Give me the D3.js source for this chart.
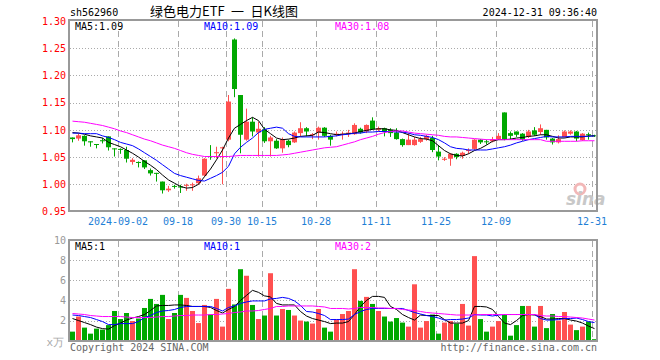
<!DOCTYPE html>
<html>
<head>
<meta charset="utf-8">
<script src="https://cdnjs.cloudflare.com/ajax/libs/d3/7.8.5/d3.min.js"></script>
<style>
body { margin: 0; background: #fff; }
svg { display: block; }
text { font-family: "DejaVu Sans Mono", monospace; font-size: 10px; }
</style>
</head>
<body>
<div id="chart"></div>
<script>
// 交易日
const dates = ["08-21","08-22","08-23","08-26","08-27","08-28","08-29","08-30",
  "09-02","09-03","09-04","09-05","09-06","09-09","09-10","09-11","09-12","09-13","09-18","09-19","09-20","09-23","09-24","09-25","09-26","09-27","09-30",
  "10-08","10-09","10-10","10-11","10-14","10-15","10-16","10-17","10-18","10-21","10-22","10-23","10-24","10-25","10-28","10-29","10-30","10-31",
  "11-01","11-04","11-05","11-06","11-07","11-08","11-11","11-12","11-13","11-14","11-15","11-18","11-19","11-20","11-21","11-22","11-25","11-26","11-27","11-28","11-29",
  "12-02","12-03","12-04","12-05","12-06","12-09","12-10","12-11","12-12","12-13","12-16","12-17","12-18","12-19","12-20","12-23","12-24","12-25","12-26","12-27","12-30","12-31"];

const tickDates = ["09-02","09-18","09-30","10-15","10-28","11-11","11-25","12-09","12-31"];
const tickLabels = ["2024-09-02","09-18","09-30","10-15","10-28","11-11","11-25","12-09","12-31"];
const priceTicks = [0.95, 1.00, 1.05, 1.10, 1.15, 1.20, 1.25, 1.30];
const volTicks = [2, 4, 6, 8, 10];

const opens = [1.086,1.084,1.089,1.079,1.074,1.081,1.088,1.066,1.065,1.063,
  1.041,1.041,1.044,1.026,1.021,1.005,0.989,0.997,0.996,0.998,
  0.998,1.002,1.016,1.052,1.057,1.066,1.082,1.266,1.164,1.082,
  1.115,1.095,1.101,1.079,1.080,1.066,1.080,1.077,1.094,1.103,
  1.090,1.095,1.104,1.089,1.091,1.091,1.093,1.092,1.102,1.097,
  1.117,1.100,1.103,1.100,1.095,1.083,1.072,1.072,1.078,1.083,
  1.085,1.060,1.045,1.047,1.056,1.052,1.061,1.065,1.082,1.079,
  1.079,1.083,1.132,1.094,1.097,1.093,1.087,1.099,1.096,1.100,
  1.084,1.077,1.087,1.093,1.097,1.081,1.092,1.090];
const highs = [1.086,1.093,1.090,1.079,1.074,1.085,1.088,1.066,1.066,1.069,
  1.048,1.042,1.044,1.029,1.021,1.005,0.997,0.999,0.999,1.001,
  1.003,1.016,1.048,1.072,1.069,1.069,1.164,1.268,1.164,1.139,
  1.123,1.115,1.105,1.089,1.083,1.086,1.082,1.097,1.114,1.105,
  1.094,1.106,1.105,1.091,1.097,1.097,1.100,1.112,1.104,1.110,
  1.123,1.106,1.104,1.103,1.103,1.084,1.094,1.087,1.087,1.091,
  1.089,1.072,1.050,1.057,1.057,1.060,1.066,1.083,1.083,1.082,
  1.087,1.094,1.132,1.097,1.097,1.094,1.100,1.105,1.110,1.100,
  1.085,1.090,1.099,1.099,1.098,1.094,1.095,1.091];
const lows = [1.077,1.080,1.071,1.069,1.066,1.075,1.062,1.051,1.056,1.040,
  1.036,1.031,1.028,1.016,1.005,0.983,0.986,0.992,0.984,0.988,
  0.988,0.999,1.014,1.045,1.048,1.000,1.079,1.160,1.057,1.080,
  1.088,1.051,1.076,1.051,1.065,1.058,1.068,1.076,1.088,1.088,
  1.083,1.082,1.087,1.071,1.088,1.082,1.087,1.091,1.093,1.094,
  1.100,1.097,1.088,1.087,1.082,1.069,1.072,1.071,1.076,1.080,
  1.059,1.044,1.043,1.034,1.046,1.047,1.056,1.063,1.074,1.073,
  1.077,1.082,1.081,1.083,1.087,1.080,1.085,1.089,1.091,1.082,
  1.073,1.075,1.086,1.091,1.079,1.080,1.082,1.087];
const closes = [1.083,1.090,1.079,1.077,1.073,1.079,1.068,1.065,1.064,1.047,
  1.045,1.040,1.031,1.020,1.020,0.989,0.992,0.996,0.994,0.999,
  1.000,1.011,1.047,1.050,1.059,1.068,1.152,1.175,1.091,1.115,
  1.097,1.102,1.079,1.086,1.066,1.083,1.072,1.095,1.103,1.097,
  1.092,1.104,1.089,1.082,1.093,1.093,1.095,1.109,1.095,1.109,
  1.101,1.103,1.096,1.094,1.083,1.072,1.082,1.082,1.083,1.089,
  1.063,1.051,1.047,1.056,1.050,1.058,1.063,1.082,1.077,1.078,
  1.083,1.089,1.082,1.089,1.091,1.082,1.097,1.091,1.103,1.086,
  1.077,1.083,1.097,1.097,1.084,1.093,1.091,1.089];

// 均线
const ma5 = [1.095,1.094,1.092,1.089,1.087,1.085,1.077,1.073,1.069,1.063,
  1.057,1.050,1.042,1.035,1.027,1.017,1.008,1.002,0.996,0.993,
  0.994,1.000,1.014,1.028,1.045,1.063,1.085,1.103,1.110,1.117,
  1.123,1.117,1.101,1.093,1.085,1.082,1.083,1.085,1.088,1.089,
  1.090,1.096,1.095,1.093,1.091,1.092,1.093,1.094,1.097,1.099,
  1.101,1.102,1.102,1.100,1.099,1.095,1.091,1.087,1.084,1.083,
  1.080,1.071,1.062,1.056,1.053,1.052,1.056,1.062,1.066,1.072,
  1.079,1.082,1.082,1.083,1.085,1.086,1.088,1.089,1.091,1.091,
  1.088,1.085,1.085,1.087,1.087,1.087,1.089,1.089];
const ma10 = [1.094,1.094,1.093,1.093,1.093,1.089,1.086,1.082,1.077,1.074,
  1.071,1.065,1.058,1.051,1.044,1.036,1.028,1.020,1.016,1.013,
  1.010,1.007,1.006,1.011,1.016,1.022,1.033,1.056,1.068,1.077,
  1.085,1.095,1.101,1.103,1.105,1.103,1.093,1.088,1.087,1.087,
  1.087,1.087,1.087,1.088,1.089,1.091,1.092,1.094,1.094,1.096,
  1.096,1.097,1.097,1.097,1.096,1.096,1.094,1.091,1.090,1.088,
  1.086,1.082,1.076,1.069,1.066,1.065,1.063,1.063,1.063,1.063,
  1.065,1.067,1.069,1.072,1.076,1.079,1.082,1.084,1.086,1.088,
  1.087,1.087,1.087,1.088,1.088,1.088,1.088,1.089];
const ma30 = [1.116,1.115,1.114,1.112,1.110,1.108,1.105,1.102,1.098,1.095,
  1.091,1.087,1.083,1.080,1.076,1.072,1.069,1.066,1.062,1.058,
  1.055,1.053,1.051,1.051,1.051,1.051,1.051,1.052,1.053,1.053,
  1.053,1.053,1.053,1.053,1.053,1.054,1.055,1.057,1.059,1.061,
  1.063,1.065,1.067,1.068,1.069,1.072,1.075,1.078,1.082,1.085,
  1.088,1.092,1.095,1.097,1.098,1.098,1.096,1.094,1.093,1.092,
  1.091,1.090,1.088,1.087,1.087,1.086,1.085,1.084,1.083,1.082,
  1.082,1.082,1.082,1.082,1.082,1.082,1.082,1.082,1.082,1.079,
  1.079,1.079,1.079,1.079,1.079,1.080,1.080,1.080];

// 成交量（万）
const volumes = [0.9,2.4,1.3,0.7,1.2,1.1,1.55,2.95,2.15,2.75,
  1.95,2.2,3.25,4.15,3.65,4.55,2.15,2.75,4.55,4.25,
  2.95,1.75,3.55,2.6,4.15,1.4,5.15,3.6,7.1,6.45,
  3.55,2.15,2.5,6.7,2.5,3.15,3.05,2.5,2.0,1.9,
  1.7,3.15,1.3,0.9,2.1,2.65,2.95,7.1,3.95,4.35,
  3.65,2.95,2.4,1.9,2.25,1.8,1.4,5.6,1.3,1.95,
  2.6,0.7,1.8,1.95,1.7,3.65,1.5,8.4,2.15,0.9,
  1.4,1.95,2.55,0.5,1.55,3.45,3.45,1.4,3.45,1.25,
  2.65,2.0,2.85,1.6,1.05,1.4,1.9,0.15];
const vma5 = [2.2,2.0,1.8,1.6,1.35,1.2,1.15,1.5,1.75,2.05,
  2.25,2.4,2.6,3.0,3.45,3.5,3.5,3.55,3.55,3.5,
  3.4,3.4,3.4,3.3,3.0,2.75,3.1,3.4,4.0,4.5,
  5.0,4.8,4.45,4.35,3.7,3.55,3.55,3.55,2.9,2.45,
  2.2,2.05,1.9,1.7,1.75,1.75,1.9,2.6,3.4,4.0,
  4.4,4.4,4.3,3.4,3.1,2.6,2.3,2.05,2.55,2.5,
  2.5,2.5,2.1,1.75,1.75,1.75,2.0,3.4,3.4,3.35,
  3.1,2.4,1.75,1.6,2.0,2.5,2.6,2.55,2.4,2.15,
  2.15,2.2,2.2,2.05,1.95,1.75,1.45,1.2];
const vma10 = [2.55,2.5,2.4,2.3,2.1,1.9,1.6,1.6,1.7,1.7,
  1.7,1.9,2.3,2.5,2.8,2.95,3.0,3.1,3.3,3.4,
  3.4,3.4,3.4,3.4,3.2,2.95,3.3,3.45,3.7,3.85,
  3.95,3.95,3.95,4.15,4.2,4.3,4.2,3.95,3.5,2.9,
  2.85,2.7,2.5,2.1,2.1,2.1,2.15,2.6,2.9,3.1,
  3.2,3.2,3.2,3.2,3.2,3.2,3.0,2.8,2.65,2.5,
  2.4,2.25,2.05,2.1,2.1,2.15,2.25,2.6,2.55,2.55,
  2.45,2.55,2.6,2.6,2.6,2.6,2.6,2.6,2.2,2.05,
  2.05,2.1,2.2,2.2,2.25,2.1,1.9,1.8];
const vma30 = [2.7,2.65,2.6,2.5,2.45,2.4,2.4,2.4,2.4,2.35,
  2.3,2.3,2.3,2.3,2.35,2.4,2.4,2.45,2.5,2.5,
  2.55,2.55,2.55,2.6,2.6,2.65,2.7,2.8,2.85,2.95,
  2.95,3.0,3.1,3.2,3.4,3.4,3.45,3.45,3.45,3.45,
  3.45,3.4,3.35,3.2,3.2,3.2,3.15,3.2,3.3,3.3,
  3.3,3.25,3.25,3.2,3.2,3.1,3.05,3.0,2.9,2.8,
  2.75,2.7,2.65,2.6,2.55,2.55,2.55,2.55,2.6,2.6,
  2.6,2.6,2.6,2.6,2.6,2.6,2.6,2.6,2.5,2.45,
  2.45,2.4,2.4,2.35,2.3,2.25,2.15,2.05];

const RED = "#ff5050", GREEN = "#00a800";

function draw() {
    const svg = d3.select("#chart").append("svg")
        .attr("width", 660)
        .attr("height", 360);

    const x = d3.scaleBand().domain(dates).range([70, 598]);
    const y = d3.scaleLinear().domain([0.95, 1.30]).range([211.5, 21]);
    const yv = d3.scaleLinear().domain([0, 10]).range([340.7, 240]);
    const up = i => closes[i] >= opens[i];

    // 标题
    svg.append("text").attr("x", 70).attr("y", 16).text("sh562960");
    svg.append("text").attr("x", 150).attr("y", 16)
        .style("font-family", "'Noto Sans CJK SC', sans-serif").style("font-size", "13px")
        .style("white-space", "pre")
        .text("绿色电力ETF\u2002一\u2002日K线图");
    svg.append("text").attr("x", 597).attr("y", 16).attr("text-anchor", "end")
        .text("2024-12-31 09:36:40");

    // 网格
    const grid = svg.append("g");
    grid.selectAll("line.h").data(priceTicks.slice(1, -1)).join("line")
        .attr("x1", 70).attr("x2", 597)
        .attr("y1", d => Math.round(y(d)) + 0.5).attr("y2", d => Math.round(y(d)) + 0.5)
        .attr("stroke", "#aaa").attr("stroke-dasharray", "1,2");
    grid.selectAll("line.hv").data(volTicks.slice(0, -1)).join("line")
        .attr("x1", 70).attr("x2", 597)
        .attr("y1", d => Math.round(yv(d)) + 0.5).attr("y2", d => Math.round(yv(d)) + 0.5)
        .attr("stroke", "#aaa").attr("stroke-dasharray", "1,2");
    tickDates.forEach(d => {
        const xx = x(d) + 0.5;
        grid.append("line").attr("x1", xx).attr("x2", xx).attr("y1", 21).attr("y2", 210)
            .attr("stroke", "#aaa").attr("stroke-dasharray", "6,4");
        grid.append("line").attr("x1", xx).attr("x2", xx).attr("y1", 241).attr("y2", 340)
            .attr("stroke", "#aaa").attr("stroke-dasharray", "6,4");
    });

    // 坐标轴
    const ay = svg.append("g").attr("transform", "translate(69,0)")
        .call(d3.axisLeft(y).tickValues(priceTicks).tickFormat(d3.format(".2f")).tickSize(0).tickPadding(3));
    ay.select(".domain").remove();
    ay.selectAll("text").attr("fill", "#f00").style("font-size", "10px").style("font-family", "'DejaVu Sans Mono', monospace");

    const ax = svg.append("g").attr("transform", `translate(${-x.bandwidth() / 2},211)`)
        .call(d3.axisBottom(x).tickValues(tickDates).tickFormat((d, i) => tickLabels[i]).tickSize(0).tickPadding(7));
    ax.select(".domain").remove();
    ax.selectAll("text").attr("fill", "#1f7fd6").style("font-size", "10px").style("font-family", "'DejaVu Sans Mono', monospace");

    const av = svg.append("g").attr("transform", "translate(69,0)")
        .call(d3.axisLeft(yv).tickValues(volTicks).tickFormat(d3.format("d")).tickSize(0).tickPadding(3));
    av.select(".domain").remove();
    av.selectAll("text").attr("fill", "#999").style("font-size", "10px").style("font-family", "'DejaVu Sans Mono', monospace");
    svg.append("text").attr("x", 64).attr("y", 346).attr("text-anchor", "end")
        .attr("fill", "#aaa").style("font-size", "11px").text("x万");

    // 新浪水印
    svg.append("circle").attr("cx", 580).attr("cy", 189).attr("r", 5)
        .attr("fill", "none").attr("stroke", "#f2b8b8").attr("stroke-width", 3);
    svg.append("text").attr("x", 566).attr("y", 205)
        .style("font-family", "'DejaVu Sans', sans-serif").style("font-size", "17px")
        .style("font-style", "italic").style("font-weight", "bold")
        .attr("fill", "#c8c8c8").text("sina");

    // K线
    const k = svg.append("g").selectAll("g").data(dates).join("g");
    k.append("line")
        .attr("x1", d => x(d) + 2.5).attr("x2", d => x(d) + 2.5)
        .attr("y1", (d, i) => y(highs[i])).attr("y2", (d, i) => y(lows[i]))
        .attr("stroke", (d, i) => up(i) ? RED : GREEN);
    k.append("rect")
        .attr("x", d => x(d)).attr("width", 5)
        .attr("y", (d, i) => y(Math.max(opens[i], closes[i])))
        .attr("height", (d, i) => Math.max(1, Math.abs(y(opens[i]) - y(closes[i]))))
        .attr("fill", (d, i) => up(i) ? RED : GREEN);

    // 成交量柱
    svg.append("g").selectAll("rect").data(volumes).join("rect")
        .attr("x", (d, i) => x(dates[i])).attr("width", 5)
        .attr("y", d => yv(d)).attr("height", d => yv(0) - yv(d))
        .attr("fill", (d, i) => up(i) ? RED : GREEN);

    // 均线
    const pl = d3.line().x((d, i) => x(dates[i]) + 2.5).y(d => y(d));
    const vl = d3.line().x((d, i) => x(dates[i]) + 2.5).y(d => yv(d));
    [[ma5, "#000"], [ma10, "#0000ff"], [ma30, "#ff00ff"]].forEach(([s, c]) =>
        svg.append("path").attr("d", pl(s)).attr("fill", "none").attr("stroke", c));
    [[vma5, "#000"], [vma10, "#0000ff"], [vma30, "#ff00ff"]].forEach(([s, c]) =>
        svg.append("path").attr("d", vl(s)).attr("fill", "none").attr("stroke", c));

    // 边框
    svg.append("rect").attr("x", 69).attr("y", 20).attr("width", 528).attr("height", 191)
        .attr("fill", "none").attr("stroke", "#999").attr("stroke-width", 2);
    svg.append("rect").attr("x", 69).attr("y", 240).attr("width", 528).attr("height", 101)
        .attr("fill", "none").attr("stroke", "#999").attr("stroke-width", 2);

    // 均线数值
    const legend = [["MA5:1.09", "#000", 75], ["MA10:1.09", "#0000ff", 204], ["MA30:1.08", "#ff00ff", 335]];
    legend.forEach(([t, c, xx]) => svg.append("text").attr("x", xx).attr("y", 30).attr("fill", c).text(t));
    const vlegend = [["MA5:1", "#000", 75], ["MA10:1", "#0000ff", 204], ["MA30:2", "#ff00ff", 335]];
    vlegend.forEach(([t, c, xx]) => svg.append("text").attr("x", xx).attr("y", 250).attr("fill", c).text(t));

    svg.append("text").attr("x", 70).attr("y", 351).attr("fill", "#666").text("Copyright 2024 SINA.COM");
    svg.append("text").attr("x", 597).attr("y", 351).attr("text-anchor", "end").attr("fill", "#666")
        .text("http://finance.sina.com.cn");
}

window.addEventListener('DOMContentLoaded', draw);
</script>
</body>
</html>
